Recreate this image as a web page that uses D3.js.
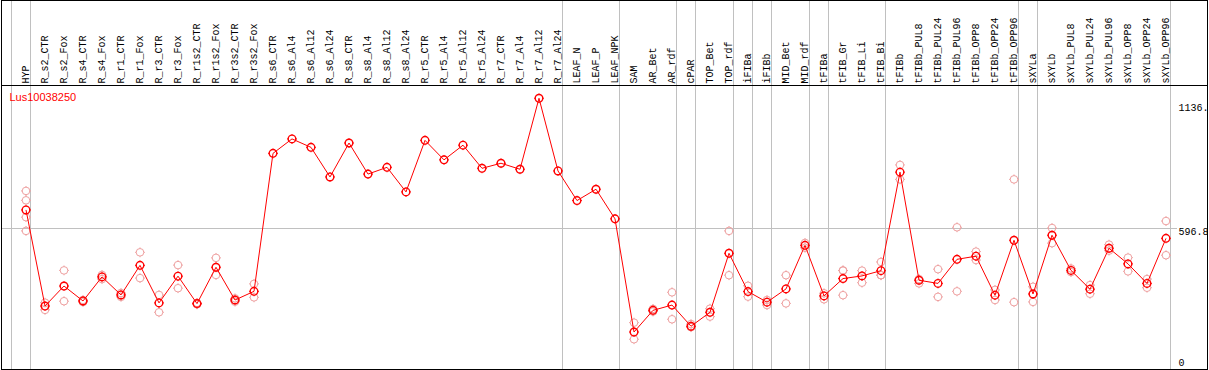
<!DOCTYPE html>
<html>
<head>
<meta charset="utf-8">
<script src="https://cdn.jsdelivr.net/npm/d3@7"></script>
<style>
  html, body { margin: 0; padding: 0; background: #fff; }
  svg { display: block; }
  .lab { font-family: "Liberation Mono", "DejaVu Sans Mono", monospace; font-size: 10px; fill: #000; }
</style>
</head>
<body>
<div id="chart"></div>
<script>
// ---- data ----
const GENE = "Lus10038250";

const SAMPLES = [
  "HYP","R_s2_CTR","R_s2_Fox","R_s4_CTR","R_s4_Fox","R_r1_CTR","R_r1_Fox","R_r3_CTR","R_r3_Fox",
  "R_r1s2_CTR","R_r1s2_Fox","R_r3s2_CTR","R_r3s2_Fox","R_s6_CTR","R_s6_Al4","R_s6_Al12","R_s6_Al24",
  "R_s8_CTR","R_s8_Al4","R_s8_Al12","R_s8_Al24","R_r5_CTR","R_r5_Al4","R_r5_Al12","R_r5_Al24",
  "R_r7_CTR","R_r7_Al4","R_r7_Al12","R_r7_Al24","LEAF_N","LEAF_P","LEAF_NPK","SAM","AR_Bet","AR_rdf",
  "cPAR","TOP_Bet","TOP_rdf","iFIBa","iFIBb","MID_Bet","MID_rdf","tFIBa","tFIB_Gr","tFIB_Li","tFIB_Bi",
  "tFIBb","tFIBb_PUL8","tFIBb_PUL24","tFIBb_PUL96","tFIBb_OPP8","tFIBb_OPP24","tFIBb_OPP96",
  "sXYLa","sXYLb","sXYLb_PUL8","sXYLb_PUL24","sXYLb_PUL96","sXYLb_OPP8","sXYLb_OPP24","sXYLb_OPP96"
];

// mean expression per sample
const MEANS = [
  673, 274, 357, 295, 395, 320, 443, 287, 398, 284, 435, 299, 335,
  908, 968, 933, 810, 951, 822, 850, 748, 962, 881, 942, 846, 867, 842, 1136.8, 835,
  712, 759, 636, 166, 256, 278, 190, 248, 493, 334, 290, 345, 526, 316,
  388, 399, 421, 830, 381, 368, 468, 481, 319, 547, 324, 568, 422, 344, 514, 449, 368, 555
];

// individual replicates (empty where only the mean is shown)
const REPS = [
  [752, 713, 643, 586], [288, 258], [422, 294], [299, 291], [403, 386], [328, 312], [497, 390],
  [320, 248], [444, 348], [287, 281], [474, 403], [306, 292], [366, 310],
  [], [], [], [], [], [], [], [], [], [], [], [], [], [], [], [],
  [], [], [], [205, 136], [262, 251], [331, 219], [199, 186], [263, 230], [586, 402], [358, 313],
  [299, 278], [402, 285], [536, 516], [327, 302], [422, 421, 319], [421, 371], [457, 402, 402],
  [860, 800], [386, 368], [427, 312], [601, 335], [500, 465], [341, 299], [800, 290], [354, 291],
  [598, 535], [430, 415], [361, 325], [529, 504], [475, 418], [386, 350], [627, 485]
];

// samples after which a group separator is drawn
const GROUP_ENDS = [
  "HYP","R_r7_Al24","LEAF_NPK","AR_rdf","cPAR","TOP_rdf","iFIBa","iFIBb",
  "MID_rdf","tFIBa","tFIB_Bi","tFIBb_OPP96","sXYLa","sXYLb_OPP96"
];

const Y_MAX = 1193.6;
const Y_TICKS = [0, 596.8, 1136.8];
const Y_TICK_TEXT = ["0", "596.8", "1136."];

// ---- layout ----
const W = 1209, H = 370;
const headerY = 85.5;
const frame = { left: 1.5, right: 1207.5, top: 0.5, bottom: 369.5 };
const tickDy = [-6.5, 6.8, 12.7];

const svg = d3.select("#chart").append("svg")
  .attr("width", W).attr("height", H);

const x = d3.scalePoint().domain(SAMPLES).range([26, 1166]);
const step = x.step();
const y = d3.scaleLinear().domain([0, Y_MAX]).range([372, 84.6]);

svg.append("defs").append("clipPath").attr("id", "inner")
  .append("rect").attr("x", 2).attr("y", 1).attr("width", 1205).attr("height", 368);

const g = svg.append("g").attr("clip-path", "url(#inner)");

// group separators (full height)
const sepX = [x(SAMPLES[0]) - step].concat(GROUP_ENDS.map(s => x(s)))
  .map(v => Math.round(v + 4) + 0.5);
g.selectAll("line.sep").data(sepX).join("line")
  .attr("class", "sep")
  .attr("x1", d => d).attr("x2", d => d)
  .attr("y1", 0).attr("y2", H)
  .attr("stroke", "#c0c0c0").attr("stroke-width", 1);

// middle reference line
const midY = Math.round(y(Y_TICKS[1])) + 0.5;
g.append("line")
  .attr("x1", 0).attr("x2", 1177)
  .attr("y1", midY).attr("y2", midY)
  .attr("stroke", "#c0c0c0").attr("stroke-width", 1);

// header labels
g.selectAll("text.hdr").data(SAMPLES).join("text")
  .attr("class", "lab hdr")
  .attr("transform", d => `translate(${x(d) + 3},${headerY - 2}) rotate(-90)`)
  .text(d => d);

// gene name
g.append("text")
  .attr("x", 9.5).attr("y", 101)
  .attr("font-family", "'Liberation Sans', Arial, sans-serif")
  .attr("font-size", 11)
  .attr("fill", "#ff0000")
  .text(GENE);

// marker drawer: open circle with four short ticks
function marker(sel, color, sw) {
  sel.append("circle").attr("r", 3.8)
    .attr("fill", "none").attr("stroke", color).attr("stroke-width", sw);
  [[0, -1], [0, 1], [-1, 0], [1, 0]].forEach(([dx, dy]) => {
    sel.append("line")
      .attr("x1", dx * 3.8).attr("y1", dy * 3.8)
      .attr("x2", dx * 4.9).attr("y2", dy * 4.9)
      .attr("stroke", color).attr("stroke-width", 1);
  });
}

// replicates
const repPts = [];
REPS.forEach((arr, i) => arr.forEach(v => repPts.push({ s: SAMPLES[i], v })));
g.selectAll("g.rep").data(repPts).join("g")
  .attr("class", "rep")
  .attr("transform", d => `translate(${x(d.s)},${y(d.v)})`)
  .each(function () { marker(d3.select(this), "#eea0a0", 1); });

// mean line
const meanPts = SAMPLES.map((s, i) => ({ s, v: MEANS[i] }));
g.append("path")
  .datum(meanPts)
  .attr("fill", "none")
  .attr("stroke", "#ff0000")
  .attr("stroke-width", 1)
  .attr("d", d3.line().x(d => x(d.s)).y(d => y(d.v)));

g.selectAll("g.mean").data(meanPts).join("g")
  .attr("class", "mean")
  .attr("transform", d => `translate(${x(d.s)},${y(d.v)})`)
  .each(function () { marker(d3.select(this), "#ff0000", 1.4); });

// y tick labels on the right
g.selectAll("text.yt").data(Y_TICKS).join("text")
  .attr("class", "lab yt")
  .attr("x", 1178.5)
  .attr("y", (d, i) => y(d) + tickDy[i])
  .text((d, i) => Y_TICK_TEXT[i]);

// frame and header rule
svg.append("rect")
  .attr("x", frame.left).attr("y", frame.top)
  .attr("width", frame.right - frame.left).attr("height", frame.bottom - frame.top)
  .attr("fill", "none").attr("stroke", "#000").attr("stroke-width", 1);
svg.append("line")
  .attr("x1", frame.left).attr("x2", frame.right)
  .attr("y1", headerY).attr("y2", headerY)
  .attr("stroke", "#000").attr("stroke-width", 1);
</script>
</body>
</html>
